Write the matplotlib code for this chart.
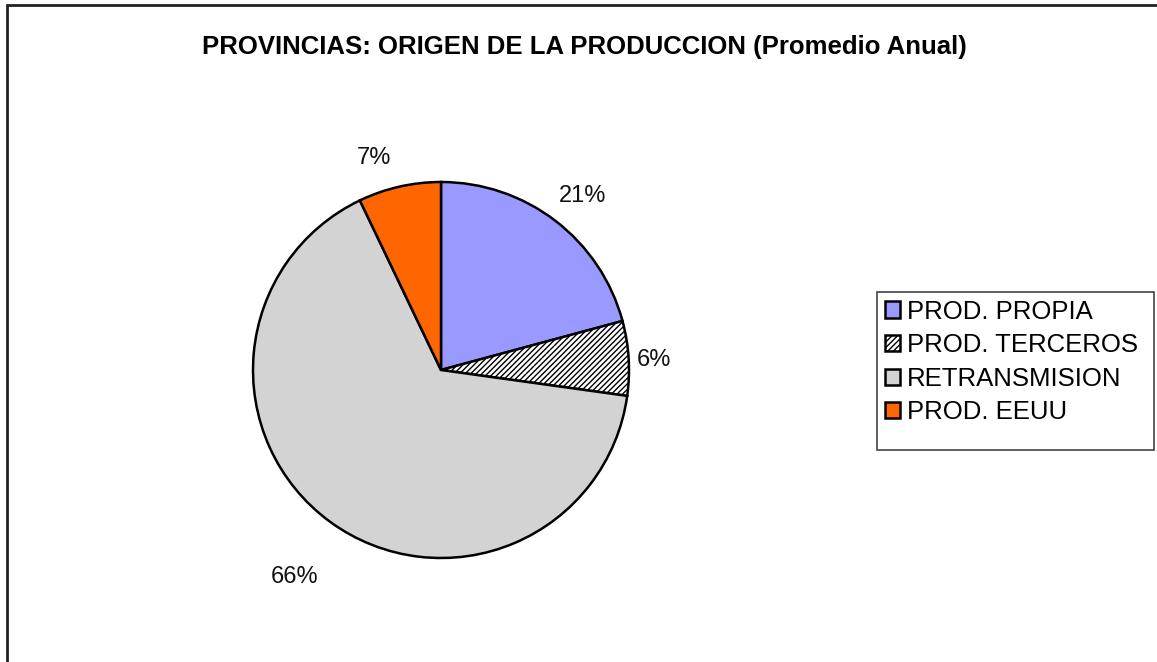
import matplotlib.pyplot as plt
from matplotlib.patches import Rectangle

plt.rcParams["font.family"] = ["Liberation Sans", "DejaVu Sans"]
plt.rcParams["hatch.linewidth"] = 1.0

# Données
categorias = ["PROD. PROPIA", "PROD. TERCEROS", "RETRANSMISION", "PROD. EEUU"]
valores = [20.8, 6.4, 65.7, 7.1]
colores = ["#9999FF", "white", "#D3D3D3", "#FF6600"]
hachures = [None, "//////", None, None]
# position des étiquettes (rayon = 1), à la manière d'Excel
pos_etiquettes = [(0.755, 0.925), (1.135, 0.055), (-0.78, -1.10), (-0.355, 1.13)]

W, H = 1157, 662
fig = plt.figure(figsize=(W / 100, H / 100), dpi=100)

# Cadre extérieur (coins gauche/haut visibles)
fig.patches.append(Rectangle((7 / W, -0.05), 1.1, 1.05 - 5 / H,
                             transform=fig.transFigure, fill=False,
                             edgecolor="#222222", linewidth=2.0))

cx, cy, r = 441, 370, 188
ax = fig.add_axes([(cx - r) / W, (H - cy - r) / H, 2 * r / W, 2 * r / H])
wedges, texts, autotexts = ax.pie(
    valores, colors=colores, startangle=90, counterclock=False,
    autopct="%1.0f%%", pctdistance=1.2,
    wedgeprops=dict(edgecolor="black", linewidth=1.8),
    textprops=dict(fontsize=17, color="#111111"))
for w, h in zip(wedges, hachures):
    if h:
        w.set_hatch(h)
for t, p in zip(autotexts, pos_etiquettes):
    t.set_position(p)
ax.set_xlim(-1, 1)
ax.set_ylim(-1, 1)
ax.set_aspect("equal")

fig.text(584 / W, 1 - 47 / H,
         "PROVINCIAS: ORIGEN DE LA PRODUCCION (Promedio Anual)",
         ha="center", va="center", fontsize=18.5, fontweight="bold")

# Cadre de la légende (plus haut que le contenu, comme dans Excel)
x0, y0, x1, y1 = 877, 292, 1154, 450
fig.patches.append(Rectangle((x0 / W, 1 - y1 / H), (x1 - x0) / W, (y1 - y0) / H,
                             transform=fig.transFigure, fill=False,
                             edgecolor="#444444", linewidth=1.2))
leg = fig.legend(wedges, categorias, loc="upper left",
                 bbox_to_anchor=(x0 / W, 1 - y0 / H), borderaxespad=0,
                 fontsize=18.5, frameon=False,
                 handlelength=0.6, handleheight=0.6,
                 handletextpad=0.25, labelspacing=0.37, borderpad=0.3)

fig.savefig("out.png", dpi=100)
